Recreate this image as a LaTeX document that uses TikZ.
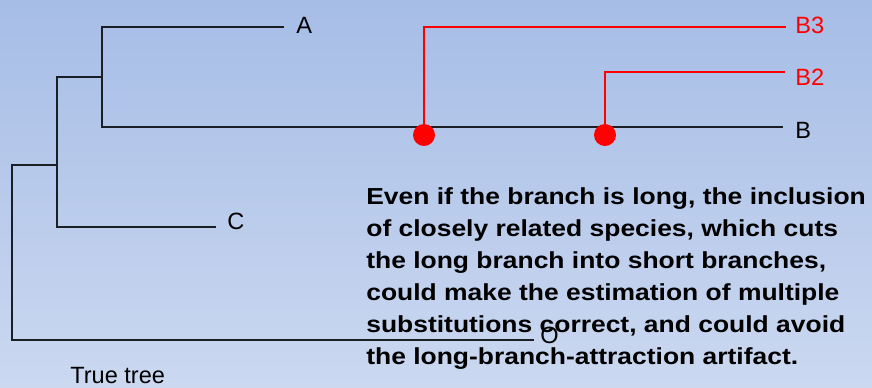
\documentclass[tikz,border=0pt]{standalone}
\usepackage{fontspec}
\setmainfont{Liberation Sans}
\newfontfamily\notefont[FakeStretch=1.14]{Liberation Sans}
\usetikzlibrary{positioning}
\definecolor{skytop}{RGB}{166,189,230}
\definecolor{skybot}{RGB}{203,216,240}
\definecolor{branchc}{RGB}{28,30,38}
\definecolor{hit}{RGB}{255,0,0}

\begin{document}
\begin{tikzpicture}[x=0.02cm, y=-0.02cm,
  br/.style={draw=branchc, line width=0.7pt},
  nb/.style={draw=hit, line width=0.6pt},
  tip/.style={font=\fontsize{13.4}{15}\selectfont, inner sep=0pt, anchor=base west},
  newtip/.style={tip, text=hit},
  dot/.style={circle, fill=hit, minimum size=0.44cm, inner sep=0pt},
  note/.style={font=\notefont\fontsize{13.2}{18.3}\selectfont\bfseries, align=left, inner sep=0pt, anchor=north west}]
% backdrop
\shade[top color=skytop, bottom color=skybot] (0,0) rectangle (872,387);
\useasboundingbox (0,0) rectangle (872,387);
% leaves
\node[tip] (A) at (296,33) {A};
\node[tip] (B) at (795,138) {B};
\node[tip] (C) at (227,229) {C};
\node[newtip] (B3) at (795,33) {B3};
\node[newtip] (B2) at (795,85) {B2};
\coordinate (tA) at (284,27);
\coordinate (tB) at (783,127);
\coordinate (tC) at (216,227);
\coordinate (tO) at (534,340);
\coordinate (tB3) at (786,27);
\coordinate (tB2) at (785,72);
% inner nodes
\coordinate (ab) at (102,77);
\coordinate (abc) at (57,165);
\coordinate (root) at (12,250);
% true tree
\draw[br] (tA) -| (ab) |- (tB);
\draw[br] (ab) -| (abc) |- (tC);
\draw[br] (abc) -| (root) |- (tO);
% added species
\node[dot] (d3) at (424,135) {};
\node[dot] (d2) at (605,135) {};
\draw[nb] (d3.north) |- (tB3);
\draw[nb] (d2.north) |- (tB2);
\node[note] (msg) at (366,187) {Even if the branch is long, the inclusion\\
of closely related species, which cuts\\
the long branch into short branches,\\
could make the estimation of multiple\\
substitutions correct, and could avoid\\
the long-branch-attraction artifact.};
\node[tip] (O) at (540,343) {O};
\node[tip] (cap) at (70,383) {True tree};
\end{tikzpicture}
\end{document}
